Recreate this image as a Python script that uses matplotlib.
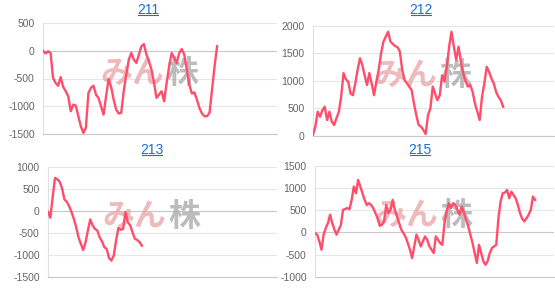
"""Four small intraday P&L style line panels (211, 212, 213, 215)."""

import numpy as np
import matplotlib

matplotlib.use("Agg")
import matplotlib.pyplot as plt
from matplotlib.lines import Line2D

plt.rcParams["font.family"] = ["Liberation Sans", "DejaVu Sans"]
plt.rcParams["axes.unicode_minus"] = False

LINE_COLOR = "#ff4d6b"
TITLE_COLOR = "#1a6fd4"

TITLES = ["211", "212", "213", "215"]

S211 = [0, -50, -10, -40, -490, -580, -630, -475, -650, -730, -820, -1090, -970, -990,
        -1180, -1360, -1480, -1390, -760, -670, -630, -790, -850, -1000, -1150, -820,
        -510, -650, -880, -1060, -1130, -1120, -730, -430, -160, -40, -160, -220, -70,
        80, 120, -70, -190, -340, -580, -850, -790, -730, -910, -580, -280, -40, -130,
        -220, -40, 30, -70, -340, -610, -770, -750, -880, -1030, -1130, -1180, -1180,
        -1120, -700, -280, 80]

S212 = [20, 170, 440, 350, 470, 530, 290, 440, 260, 200, 320, 440, 710, 1140, 1030, 985,
        770, 740, 950, 1200, 1410, 1290, 1100, 925, 1140, 950, 740, 985, 1200, 1500,
        1710, 1800, 1890, 1710, 1670, 1630, 1610, 1530, 1200, 1015, 955, 895, 835, 590,
        380, 200, 170, 110, 35, 380, 500, 895, 770, 650, 740, 1100, 985, 1255, 1620,
        1890, 1620, 1380, 1620, 1350, 1135, 985, 895, 925, 800, 590, 440, 290, 710, 955,
        1255, 1165, 1045, 955, 800, 710, 650, 530]

S213 = [-15, -145, 330, 760, 725, 670, 520, 270, 215, 120, -15, -170, -360, -590, -740,
        -880, -700, -435, -185, -320, -400, -435, -590, -680, -815, -855, -1060, -1120,
        -1010, -665, -375, -420, -400, -15, -245, -320, -475, -625, -650, -700, -780]

S215 = [-15, -50, -200, -390, -50, 100, 210, 400, 210, 60, -50, 60, 170, 510, 530, 550,
        525, 735, 1035, 885, 1185, 1035, 885, 735, 620, 660, 620, 550, 435, 320, 150, 170,
        250, 620, 435, 510, 735, 510, 360, 210, 60, -15, -105, -240, -390, -580, -315, -50,
        -165, -315, -200, -90, -165, -315, -390, -465, -90, -165, -240, -280, 210, 470,
        660, 550, 660, 620, 510, 400, 585, 450, 285, 135, -50, -240, -465, -690, -280,
        -465, -650, -730, -650, -465, -350, -315, -280, 320, 700, 885, 900, 960, 770, 920,
        845, 770, 620, 435, 310, 250, 320, 400, 510, 810, 735]

SERIES = [S211, S212, S213, S215]
Y_TICKS = [
    [-1500, -1000, -500, 0, 500],
    [0, 500, 1000, 1500, 2000],
    [-1500, -1000, -500, 0, 500, 1000],
    [-1000, -500, 0, 500, 1000, 1500],
]
# share of the x axis that the trace fills in each panel
FILL = [0.744, 0.789, 0.41, 0.921]

# axes rectangles in pixels: left, top, right, bottom
W, H = 555, 288
BOXES = [(43, 23, 277, 134), (313, 25.7, 554, 136), (48, 167.3, 277, 277.3),
         (315, 166, 554, 276.7)]
TITLE_POS = [(148, 10), (421, 10), (152, 150), (420, 150)]


def px_rect(l, t, r, b):
    return [l / W, (H - b) / H, (r - l) / W, (b - t) / H]


fig = plt.figure(figsize=(W / 100, H / 100), dpi=100)

for k in range(4):
    ax = fig.add_axes(px_rect(*BOXES[k]))
    vals = SERIES[k]
    x = np.arange(len(vals))
    ax.plot(x, vals, color=LINE_COLOR, lw=1.7, solid_joinstyle="round", zorder=3)
    ax.set_xlim(0, (len(vals) - 1) / FILL[k])
    ticks = Y_TICKS[k]
    ax.set_ylim(ticks[0], ticks[-1])
    ax.set_yticks(ticks)
    ax.set_yticklabels([str(t) for t in ticks], fontsize=7.5, color="#666666")
    ax.tick_params(axis="y", length=0, pad=6)
    ax.set_xticks([])
    for t in ticks:
        c = "#c8c8c8" if t == 0 else "#e6e6e6"
        ax.axhline(t, color=c, lw=0.8, zorder=1)
    for side in ["top", "right"]:
        ax.spines[side].set_visible(False)
    ax.spines["left"].set_color("#e0e0e0")
    ax.spines["left"].set_linewidth(0.8)
    ax.spines["bottom"].set_color("#c8c8c8")
    ax.spines["bottom"].set_linewidth(0.8)

    # watermark, drawn under the trace
    l, t, r, b = BOXES[k]
    cx = (l + r) / 2 / W + 0.007
    cy = (H - (t + b) / 2 + 5) / H
    ax.text(cx, cy, "みん", fontsize=23, color="#e9a3a6", alpha=0.75,
            family=["Noto Sans CJK JP"], weight="bold", ha="right", va="center",
            transform=fig.transFigure, zorder=2)
    ax.text(cx + 0.004, cy, "株", fontsize=23, color="#a6a6a6", alpha=0.75,
            family=["Noto Sans CJK JP"], weight="bold", ha="left", va="center",
            transform=fig.transFigure, zorder=2)

    # underlined blue title
    tx, ty = TITLE_POS[k]
    fig.text(tx / W, 1 - ty / H, TITLES[k], fontsize=10, color=TITLE_COLOR,
             ha="center", va="center")
    fig.add_artist(Line2D([(tx - 10) / W, (tx + 10) / W],
                          [1 - (ty + 5) / H, 1 - (ty + 5) / H],
                          transform=fig.transFigure, color=TITLE_COLOR, lw=0.8))

fig.savefig("out.png", dpi=100, facecolor="white")
plt.close(fig)
